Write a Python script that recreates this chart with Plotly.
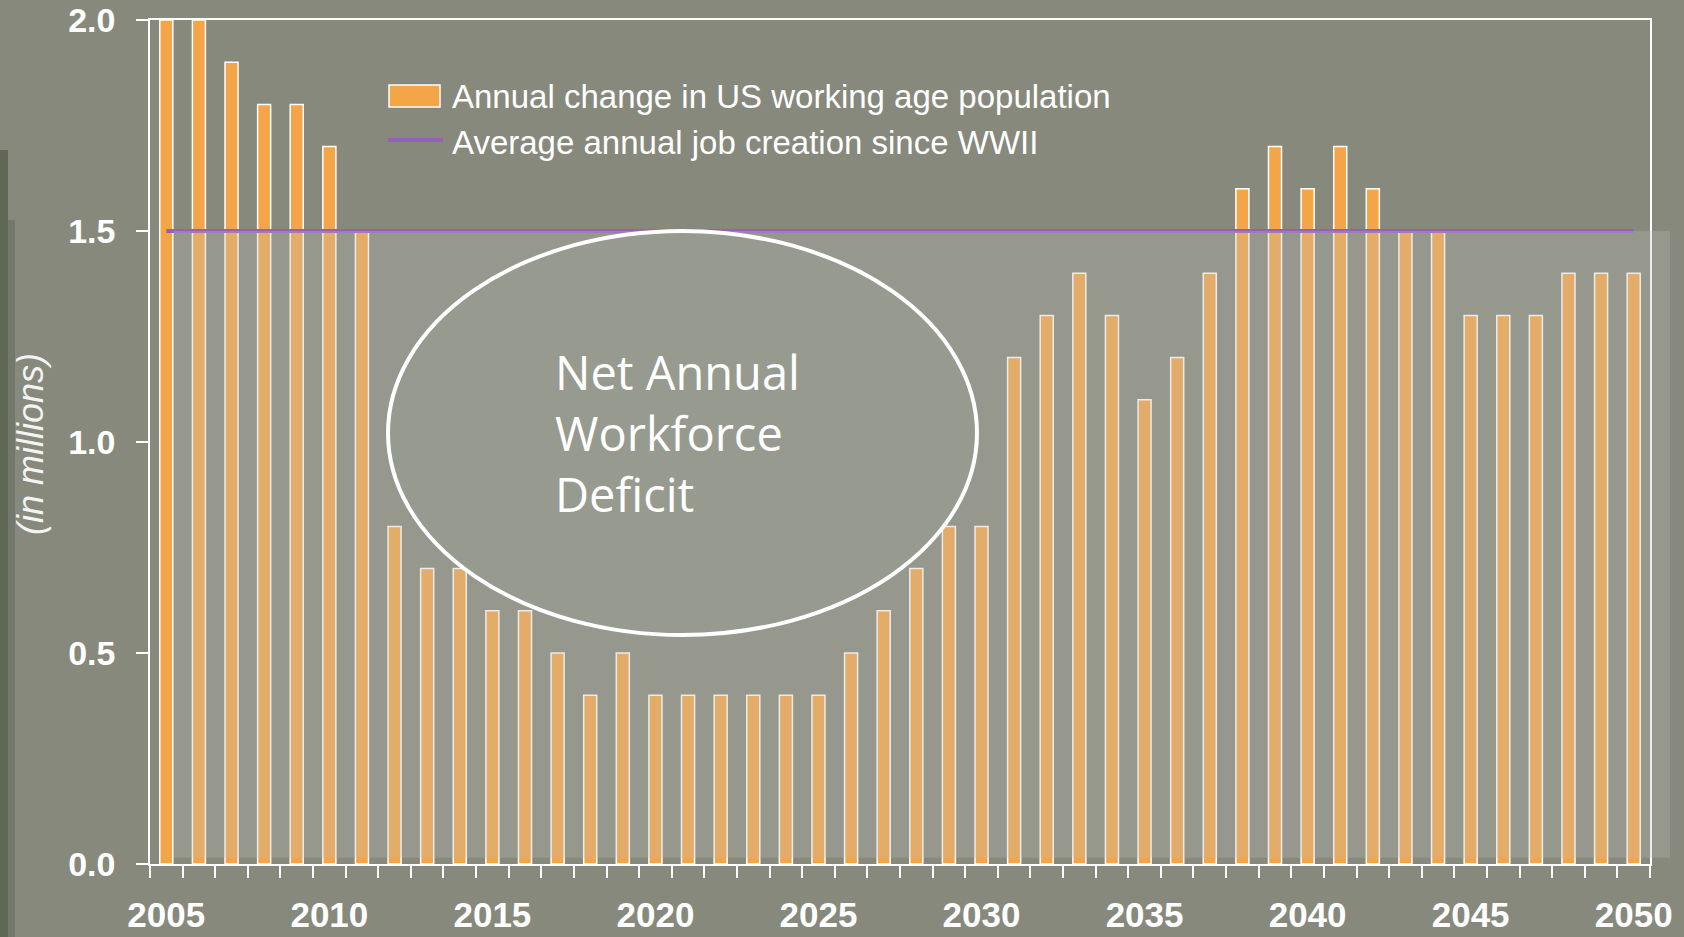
import plotly.graph_objects as go

years = list(range(2005, 2051))
pop_change = [2.0, 2.0, 1.9, 1.8, 1.8, 1.7, 1.5, 0.8, 0.7, 0.7,
              0.6, 0.6, 0.5, 0.4, 0.5, 0.4, 0.4, 0.4, 0.4, 0.4,
              0.4, 0.5, 0.6, 0.7, 0.8, 0.8, 1.2, 1.3, 1.4, 1.3,
              1.1, 1.2, 1.4, 1.6, 1.7, 1.6, 1.7, 1.6, 1.5, 1.5,
              1.3, 1.3, 1.3, 1.4, 1.4, 1.4]
avg_job_creation = 1.5
x_tick_years = list(range(2005, 2051, 5))
y_ticks = [0.0, 0.5, 1.0, 1.5, 2.0]
y_tick_text = ["0.0", "0.5", "1.0", "1.5", "2.0"]
legend_labels = ["Annual change in US working age population",
                 "Average annual job creation since WWII"]
callout_text = "Net Annual<br>Workforce<br>Deficit"
y_title = "(in millions)"

W, H = 1684, 937
L, R, T, B = 150, 34, 20, 73
PW, PH = W - L - R, H - T - B

def px(x):
    return (x - L) / PW

def py(y):
    return (H - B - y) / PH

ORANGE = "#F4A548"
PURPLE = "#9560B8"
BG = "#86897C"

fig = go.Figure()
fig.add_trace(go.Bar(
    x=years, y=pop_change, width=0.4,
    marker=dict(color=ORANGE, line=dict(color="white", width=1.5)),
    name=legend_labels[0], showlegend=False,
))
fig.add_trace(go.Scatter(
    x=[years[0], years[-1]], y=[avg_job_creation, avg_job_creation],
    mode="lines", line=dict(color=PURPLE, width=4),
    name=legend_labels[1], showlegend=False,
))

shapes = [
    # dark textured left edge
    dict(type="rect", xref="paper", yref="paper", x0=px(0), x1=px(8), y0=py(H), y1=py(150),
         fillcolor="rgba(50,62,38,0.45)", line=dict(width=0), layer="below"),
    dict(type="rect", xref="paper", yref="paper", x0=px(8), x1=px(15), y0=py(H), y1=py(220),
         fillcolor="rgba(50,62,38,0.2)", line=dict(width=0), layer="below"),
    # translucent overlay panel below the average line
    dict(type="rect", xref="paper", yref="y", x0=px(174), x1=px(1670), y0=0.015, y1=avg_job_creation,
         fillcolor="rgba(189,190,182,0.30)", line=dict(width=0), layer="above"),
    # callout ellipse
    dict(type="circle", xref="paper", yref="paper", x0=px(388), x1=px(977), y0=py(635), y1=py(231),
         fillcolor="#979A8F", line=dict(color="white", width=4), layer="above"),
    # legend swatches
    dict(type="rect", xref="paper", yref="paper", x0=px(389), x1=px(440), y0=py(107), y1=py(85),
         fillcolor=ORANGE, line=dict(color="white", width=1.5), layer="above"),
    dict(type="line", xref="paper", yref="paper", x0=px(388), x1=px(443), y0=py(140), y1=py(140),
         line=dict(color=PURPLE, width=4), layer="above"),
]

annotations = [
    dict(text=legend_labels[0], xref="paper", yref="paper", x=px(450), y=py(96),
         xanchor="left", yanchor="middle", showarrow=False,
         font=dict(family="Liberation Sans", size=33, color="white")),
    dict(text=legend_labels[1], xref="paper", yref="paper", x=px(450), y=py(142),
         xanchor="left", yanchor="middle", showarrow=False,
         font=dict(family="Liberation Sans", size=33, color="white")),
    dict(text=callout_text, xref="paper", yref="paper", x=px(553), y=py(433),
         xanchor="left", yanchor="middle", align="left", showarrow=False,
         font=dict(family="Open Sans", size=47, color="white")),
    dict(text="<i>" + y_title + "</i>", xref="paper", yref="paper", x=px(30), y=py(444),
         xanchor="center", yanchor="middle", textangle=-90, showarrow=False,
         font=dict(family="Liberation Sans", size=36, color="rgba(255,255,255,0.92)")),
]

fig.update_layout(
    width=W, height=H,
    margin=dict(l=L, r=R, t=T, b=B, pad=0, autoexpand=False),
    paper_bgcolor=BG, plot_bgcolor="rgba(0,0,0,0)",
    showlegend=False,
    shapes=shapes, annotations=annotations,
    bargap=0.6,
)
fig.update_xaxes(
    automargin=False,
    range=[years[0] - 0.5, years[-1] + 0.5],
    tickmode="array", tickvals=x_tick_years, ticktext=[str(v) for v in x_tick_years],
    ticks="outside", ticklen=19, tickcolor="rgba(0,0,0,0)",
    tickfont=dict(family="Liberation Sans", size=35, color="white", weight="bold"),
    showline=True, linecolor="white", linewidth=1.5, mirror=True,
    showgrid=False, zeroline=False,
    minor=dict(tickmode="array", tickvals=[v - 0.5 for v in years] + [years[-1] + 0.5],
               ticks="outside", ticklen=12, tickcolor="white", tickwidth=1.5, showgrid=False),
)
fig.update_yaxes(
    automargin=False,
    range=[0, 2.0],
    tickmode="array", tickvals=y_ticks, ticktext=y_tick_text,
    ticks="outside", ticklen=12, tickcolor="white", tickwidth=1.5,
    tickfont=dict(family="Liberation Sans", size=34, color="white", weight="bold"),
    ticklabelstandoff=14,
    showline=True, linecolor="white", linewidth=1.5, mirror=True,
    showgrid=False, zeroline=False,
)

fig.write_html(
    "out.html",
    config={"displayModeBar": False},
    post_script="document.body.style.margin='0';document.body.style.overflow='hidden';",
)
